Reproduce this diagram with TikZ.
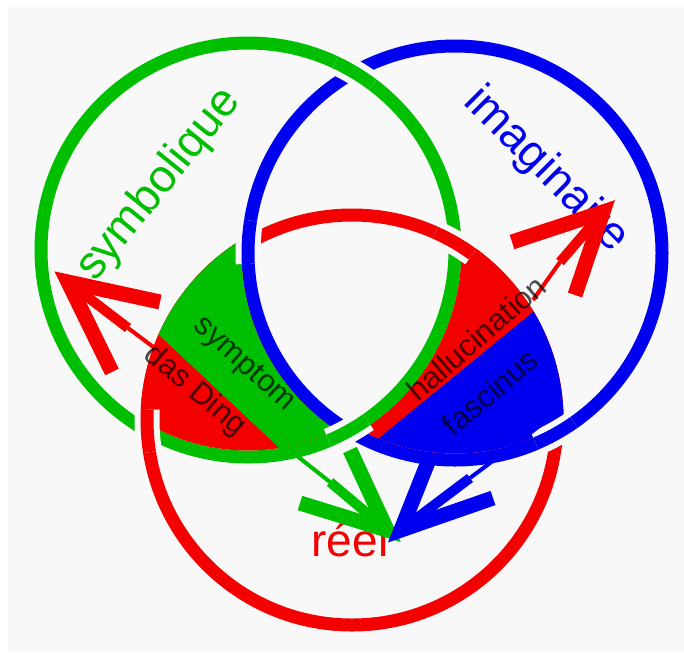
\documentclass[tikz,border=0pt]{standalone}
\usepackage{fontspec}
\setmainfont{Liberation Sans}
\usetikzlibrary{calc}
\definecolor{sgreen}{HTML}{00BE00}
\definecolor{iblue}{HTML}{0000F0}
\definecolor{rred}{HTML}{F50000}
\definecolor{bgray}{HTML}{F8F8F8}
\def\overarc[#1](#2)(#3:#4:#5){\draw[bgray, line width=25] ($(#2)+({#5*cos(#3)},{#5*sin(#3)})$) arc (#3:#4:#5);
	\draw[#1, line width=13] ($(#2)+({#5*cos(#3)},{#5*sin(#3)})$) arc (#3:#4:#5);}
\tikzset{
	ring/.style={line width=13},
	shaft/.style={line width=10, line cap=butt},
	thinshaft/.style={line width=4, line cap=butt},
	barb/.style={line width=15, line cap=butt, line join=miter},
	ringlabel/.style={font=\fontsize{46}{50}\selectfont},
	lunelabel/.style={font=\fontsize{31}{34}\selectfont, text=black, text opacity=0.7}
}

\begin{document}
\begin{tikzpicture}[x=1pt, y=-1pt]
	%%%%% START %%%%%
	\useasboundingbox (0,0) rectangle (684,659);
	\fill[white] (0,0) rectangle (684,659);
	\fill[bgray] (8,7) rectangle (684,651);
	
	\coordinate (S) at (248,250);
	\coordinate (I) at (455,253);
	\coordinate (R) at (352,420);
	
	\draw[ring, rred] (R) circle (205);
	\draw[ring, sgreen] (S) circle (207);
	\draw[ring, iblue] (I) circle (207);
	
	% symbolique / reel
	\begin{scope}[even odd rule]
		\clip (R) circle (211.5);
		\clip (S) circle (200.5);
		\clip (I) circle (213.5) (-100,800) rectangle (800,-100);
		\fill[rred] (0,0) rectangle (684,659);
		\fill[sgreen] (11,196) -- (419,579) -- (700,579) -- (700,-100) -- (11,-100) -- cycle;
	\end{scope}
	
	% imaginaire / reel
	\begin{scope}[even odd rule]
		\clip (R) circle (211.5);
		\clip (I) circle (200.5);
		\clip (S) circle (213.5) (-100,800) rectangle (800,-100);
		\fill[rred] (0,0) rectangle (684,659);
		\fill[iblue] (318,488) -- (604,254) -- (700,254) -- (700,700) -- (318,700) -- cycle;
	\end{scope}
	
	\overarc[sgreen](S)(-65:-53:207);
	\overarc[sgreen](S)(55:67:207);
	\overarc[iblue](I)(177:189:207);
	\overarc[iblue](I)(55:67:207);
	\overarc[rred](R)(-66:-54:205);
	\overarc[rred](R)(171:183:205);
	
	\node[ringlabel, text=sgreen, rotate=51] (symb) at (159,185) {symbolique};
	\node[ringlabel, text=iblue, rotate=-45] (imag) at (546,170) {imaginaire};
	\node[ringlabel, text=rred, anchor=base] (reel) at (350,556) {réel};
	
	\coordinate (symtip) at (68,282);
	\coordinate (symmid) at (128,328);
	\coordinate (symtail) at (160,352);
	\coordinate (symbarbA) at (160,302);
	\coordinate (symbarbB) at (112,372);
	\draw[thinshaft, rred] (symtail) -- (symmid);
	\draw[shaft, rred] (symmid) -- (symtip);
	\draw[barb, rred] (symbarbA) -- (symtip) -- (symbarbB);
	
	\coordinate (reltip) at (387,530);
	\coordinate (relmid) at (330,482);
	\coordinate (reltail) at (292,452);
	\coordinate (relbarbA) at (300,503);
	\coordinate (relbarbB) at (350,450);
	\draw[thinshaft, sgreen] (reltail) -- (relmid);
	\draw[shaft, sgreen] (relmid) -- (reltip);
	\draw[barb, sgreen] (relbarbA) -- (reltip) -- (relbarbB);
	
	\coordinate (imtip) at (603,212);
	\coordinate (immid) at (560,262);
	\coordinate (imtail) at (533,300);
	\coordinate (imbarbA) at (512,242);
	\coordinate (imbarbB) at (575,295);
	\draw[thinshaft, rred] (imtail) -- (immid);
	\draw[shaft, rred] (immid) -- (imtip);
	\draw[barb, rred] (imbarbA) -- (imtip) -- (imbarbB);
	
	\coordinate (fastip) at (401,530);
	\coordinate (fasmid) at (470,478);
	\coordinate (fastail) at (550,418);
	\coordinate (fasbarbA) at (493,498);
	\coordinate (fasbarbB) at (428,462);
	\draw[thinshaft, iblue] (fastail) -- (fasmid);
	\draw[shaft, iblue] (fasmid) -- (fastip);
	\draw[barb, iblue] (fasbarbA) -- (fastip) -- (fasbarbB);
	
	\node[lunelabel, rotate=-42] (symptom) at (244,365) {symptom};
	\node[lunelabel, rotate=-40] (ding) at (195,391) {das Ding};
	\node[lunelabel, rotate=41] (halluc) at (476,338) {hallucination};
	\node[lunelabel, rotate=40] (fasc) at (490,392) {fascinus};
	%%%%% END %%%%%
\end{tikzpicture}
\end{document}
